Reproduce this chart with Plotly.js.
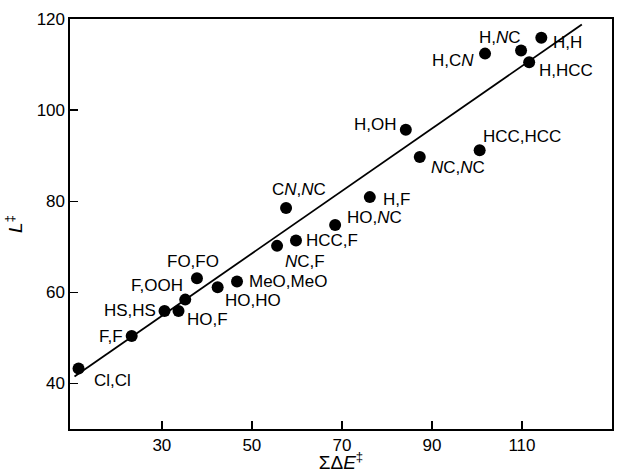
<!DOCTYPE html>
<html>
<head>
<meta charset="utf-8">
<script src="https://cdn.plot.ly/plotly-3.0.1.min.js"></script>
<style>html,body{margin:0;padding:0;background:#fff;}#chart{width:624px;height:473px;}</style>
</head>
<body>
<div id="chart"></div>
<script>
// Data
const labels = ["Cl,Cl","F,F","HS,HS","HO,F","F,OOH","FO,FO","HO,HO","MeO,MeO","NC,F","HCC,F",
                "CN,NC","HO,NC","H,F","NC,NC","H,OH","HCC,HCC","H,CN","H,NC","H,HCC","H,H"];
const sumDeltaE = [11.5,23.3,30.6,33.7,35.2,37.8,42.4,46.7,55.6,59.8,
                   57.6,68.5,76.2,87.3,84.2,100.6,101.8,109.8,111.6,114.3];
const Lvalues = [43.3,50.4,55.9,55.9,58.4,63.1,61.1,62.4,70.2,71.4,
                 78.5,74.8,80.9,89.7,95.7,91.2,112.4,113.1,110.5,115.9];
const fitX = [10.6, 123.3];
const fitY = [41.5, 118.8];
const xTicks = [30,50,70,90,110,130];
const yTicks = [40,60,80,100,120];

// Label display (italic N as in the original) and offsets in pixels
const labelHtml = {
  "CN,NC":"C<i>N</i>,<i>N</i>C", "HO,NC":"HO,<i>N</i>C", "NC,NC":"<i>N</i>C,<i>N</i>C",
  "H,CN":"H,C<i>N</i>", "H,NC":"H,<i>N</i>C", "NC,F":"<i>N</i>C,F"
};
const offsets = {
  "Cl,Cl":[34,-12], "F,F":[-21,0], "HS,HS":[-35,1], "HO,F":[29,-8], "F,OOH":[-28,14],
  "FO,FO":[-4,17], "HO,HO":[35,-13], "MeO,MeO":[51,0], "NC,F":[28,-16], "HCC,F":[36,0],
  "CN,NC":[13,19], "HO,NC":[39,7], "H,F":[27,-2], "NC,NC":[38,-10], "H,OH":[-30,5],
  "HCC,HCC":[42,14], "H,CN":[-32,-7], "H,NC":[-21,13], "H,HCC":[37,-8], "H,H":[26,-5]
};

const font = {family: "Liberation Sans, Arial, sans-serif", color: "#000"};

const annotations = labels.map((lab, i) => ({
  x: sumDeltaE[i], y: Lvalues[i], xref: "x", yref: "y",
  text: labelHtml[lab] || lab, showarrow: false,
  xanchor: "center", yanchor: "middle",
  xshift: offsets[lab][0], yshift: offsets[lab][1],
  font: Object.assign({size: 17}, font)
}));

const traces = [
  {x: fitX, y: fitY, mode: "lines", line: {color: "#000", width: 1.8}, hoverinfo: "skip"},
  {x: sumDeltaE, y: Lvalues, mode: "markers", marker: {color: "#000", size: 12}}
];

const axisCommon = {
  showline: true, mirror: true, linecolor: "#000", linewidth: 1.6,
  ticks: "inside", ticklen: 8, tickwidth: 1.4, tickcolor: "#000",
  showgrid: false, zeroline: false,
  tickfont: Object.assign({size: 17}, font)
};

const layout = {
  width: 624, height: 473,
  margin: {l: 70, r: 12, t: 19, b: 44},
  paper_bgcolor: "#fff", plot_bgcolor: "#fff",
  showlegend: false,
  xaxis: Object.assign({}, axisCommon, {
    range: [9.6, 130], tickvals: xTicks, ticktext: xTicks.map(String),
    title: {text: "ΣΔ<i>E</i><sup>‡</sup>", font: Object.assign({size: 19}, font), standoff: 2}
  }),
  yaxis: Object.assign({}, axisCommon, {
    range: [30, 120], tickvals: yTicks, ticktext: yTicks.map(String),
    title: {text: "<i>L</i><sup>‡</sup>", font: Object.assign({size: 19}, font), standoff: 9}
  }),
  annotations: annotations
};

Plotly.newPlot("chart", traces, layout, {staticPlot: true, displayModeBar: false});
</script>
</body>
</html>
